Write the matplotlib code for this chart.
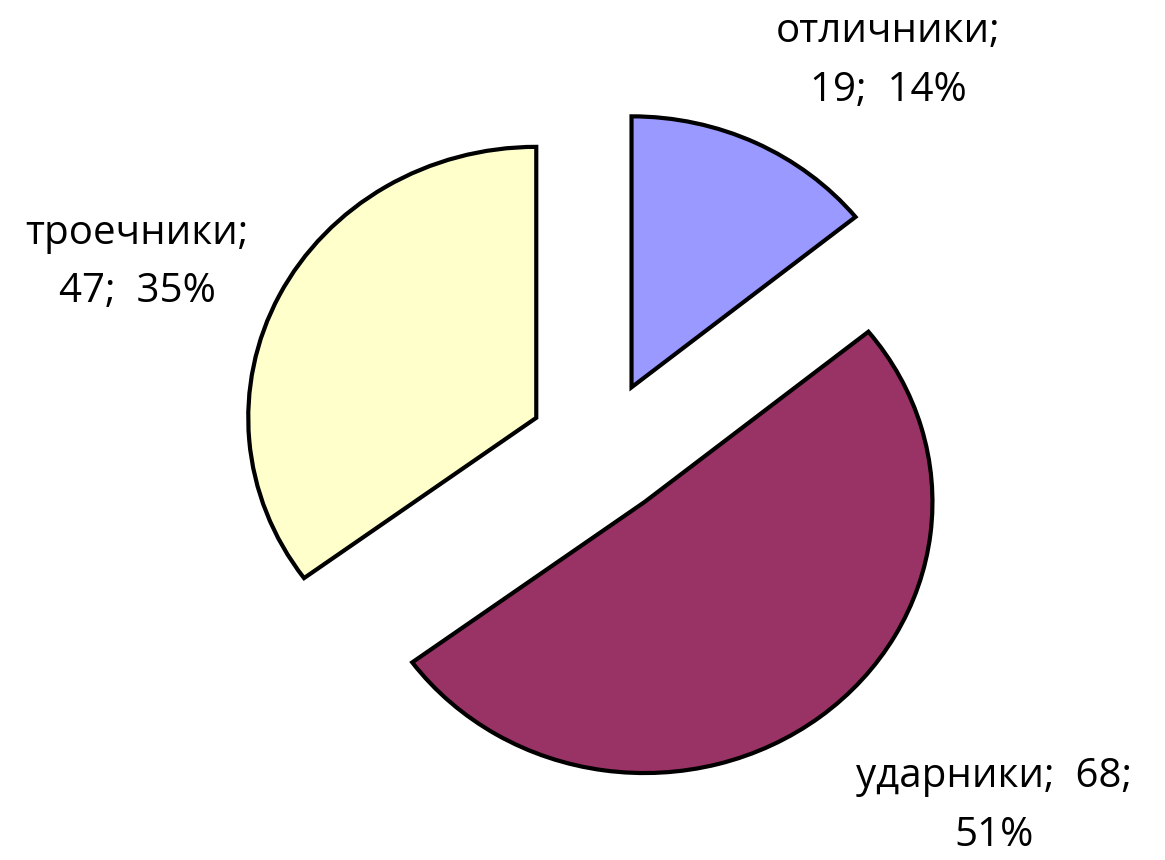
import matplotlib
matplotlib.use('Agg')
import matplotlib.pyplot as plt

names = ['отличники', 'ударники', 'троечники']
counts = [19, 68, 47]
colors = ['#9999FF', '#993366', '#FFFFCC']

plt.rcParams['font.family'] = ['Open Sans', 'DejaVu Sans']

fig = plt.figure(figsize=(11.65, 8.6), dpi=100)
ax = fig.add_axes([0, 0, 1, 1])

total = sum(counts)
wedges, _ = ax.pie(counts, colors=colors, explode=[0.25] * 3, startangle=90,
                   counterclock=False,
                   wedgeprops=dict(edgecolor='black', linewidth=3.0))

# excel-style stretched pie
ax.set_aspect('auto')
ax.set_xlim(-2.085, 1.96)
ax.set_ylim(-1.519, 1.655)
ax.axis('off')

pct = [round(c / total * 100) for c in counts]
labels = [
    f'{names[0]};\n{counts[0]};  {pct[0]}%',
    f'{names[1]};  {counts[1]};\n{pct[1]}%',
    f'{names[2]};\n{counts[2]};  {pct[2]}%',
]
label_pos = [(1.0, 1.43), (1.367, -1.322), (-1.609, 0.685)]
for txt, (x, y) in zip(labels, label_pos):
    ax.text(x, y, txt, ha='center', va='center', fontsize=29,
            linespacing=1.6, color='black')

fig.savefig('out.png', dpi=100)
